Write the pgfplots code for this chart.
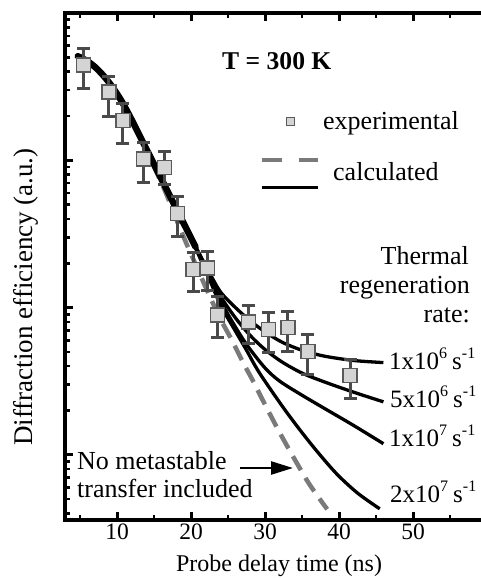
\documentclass[border=0pt]{standalone}
\usepackage{fontspec}
\setmainfont{Liberation Serif}
\usepackage{pgfplots}
\pgfplotsset{compat=1.18}
\usepackage{pgfplotstable}
\usetikzlibrary{arrows.meta}
\definecolor{sqfill}{HTML}{D4D4D4}
\definecolor{sqedge}{HTML}{5A5A5A}
\definecolor{errc}{HTML}{4A4A4A}
\definecolor{dashc}{HTML}{7A7A7A}
\newcommand\sups[1]{\raisebox{0.45em}{\fontsize{16}{16}\selectfont #1}}

\pgfplotstableread{
x y ep em
5.5 4.43 1.35 1.34
8.9 2.90 0.83 0.91
10.8 1.87 0.57 0.56
13.6 1.02 0.31 0.31
16.4 0.896 0.26 0.21
18.2 0.436 0.133 0.132
20.3 0.181 0.056 0.053
22.2 0.185 0.055 0.055
23.6 0.089 0.029 0.026
27.8 0.080 0.023 0.023
30.5 0.0708 0.0217 0.0214
33.1 0.0731 0.021 0.0229
35.8 0.0502 0.0153 0.0152
41.5 0.0345 0.0098 0.0105
}\expdata

\pgfplotstableread{
x y
4.7 5.09
6.0 4.71
7.2 4.22
8.4 3.64
9.5 3.08
10.7 2.48
12.0 1.875
13.4 1.358
15.0 0.940
16.5 0.665
18.0 0.471
19.5 0.333
20.6 0.259
}\common

\pgfplotstableread{
x y
19.5 0.333
21 0.2388
22.5 0.1718
24 0.1274
26 0.100
28 0.0813
30 0.0684
32.3 0.0582
35 0.0513
38 0.0468
42 0.0437
46 0.0423
}\rA

\pgfplotstableread{
x y
19.5 0.333
21 0.2355
22.5 0.166
24 0.1189
26 0.0851
28 0.0646
30 0.0519
32.3 0.0427
35 0.0359
38 0.0313
42 0.0266
46 0.0229
}\rB

\pgfplotstableread{
x y
19.5 0.333
21 0.2323
22.5 0.1603
24 0.1109
25.5 0.0813
27.5 0.0562
30 0.0389
32 0.0316
35 0.0254
38 0.0207
42 0.0158
46 0.0119
}\rC

\pgfplotstableread{
x y
19.5 0.333
21 0.2291
22.5 0.1549
24 0.1035
26 0.0692
27.5 0.0513
29.2 0.0363
32.3 0.0215
34.7 0.0148
37 0.0106
39.7 0.00741
42.5 0.00550
45.5 0.00430
}\rD

\pgfplotstableread{
x y
13.4 1.358
15 0.902
16.5 0.617
18 0.398
19.5 0.263
21 0.178
22.5 0.120
24 0.0832
25.5 0.0603
27 0.0427
28.5 0.0309
30 0.0219
32 0.0141
34 0.00933
36 0.00631
38.4 0.00427
}\nometa

\begin{document}
\begin{tikzpicture}
\useasboundingbox (-65pt,-58pt) rectangle (415pt,520pt);
\begin{axis}[
  at={(0pt,0pt)}, anchor=south west,
  scale only axis, width=415pt, height=507pt,
  ymode=log,
  xmin=2.97, xmax=59.05, ymin=0.00361, ymax=10,
  axis y line*=left, axis x line*=box,
  axis line style={line width=4pt, line cap=rect},
  tick align=inside,
  xtick={10,20,30,40,50},
  minor xtick={5,15,25,35,45,55},
  ytick={0.01,0.1,1,10}, yticklabels={},
  minor ytick={0.004,0.005,0.006,0.007,0.008,0.009,0.02,0.03,0.04,0.05,0.06,0.07,0.08,0.09,0.2,0.3,0.4,0.5,0.6,0.7,0.8,0.9,2,3,4,5,6,7,8,9},
  major tick length=8pt, minor tick length=5pt,
  major tick style={line width=3pt, black},
  minor tick style={line width=2.6pt, black},
  xticklabel style={font=\fontsize{23.5}{26}\selectfont},
  /pgf/number format/assume math mode=true,
]
\addplot[dashc, line width=4.5pt, dash pattern=on 16pt off 9pt, smooth] table[x=x,y=y]{\nometa};
\addplot[black, line width=3.3pt, smooth] table[x=x,y=y]{\rA};
\addplot[black, line width=3.3pt, smooth] table[x=x,y=y]{\rB};
\addplot[black, line width=3.3pt, smooth] table[x=x,y=y]{\rC};
\addplot[black, line width=3.3pt, smooth] table[x=x,y=y]{\rD};
\addplot[black, line width=6.5pt, line cap=round, smooth] table[x=x,y=y]{\common};
\addplot[only marks, mark=square*, mark size=7pt,
  mark options={fill=sqfill, draw=sqedge, line width=1.5pt},
  error bars/.cd, y dir=both, y explicit,
  error bar style={line width=3pt, color=errc, solid},
  error mark options={rotate=90, line width=3pt, color=errc, mark size=6.5pt}]
  table[x=x, y=y, y error plus=ep, y error minus=em]{\expdata};
\end{axis}
% texts (absolute positions, axis SW corner at origin)
\node[anchor=base west, inner sep=0, font=\fontsize{25.6}{28}\selectfont\bfseries] at (157pt,450pt) {T = 300 K};
\draw[sqedge, fill=sqfill, line width=1pt] (221pt,394pt) rectangle (229pt,402pt);
\node[anchor=base west, inner sep=0, font=\fontsize{26}{28}\selectfont] at (258pt,390pt) {experimental};
\draw[dashc, line width=3.5pt, dash pattern=on 20pt off 17pt] (197pt,360pt) -- (253pt,360pt);
\draw[black, line width=3pt] (197pt,332pt) -- (253pt,332pt);
\node[anchor=base west, inner sep=0, font=\fontsize{26}{28}\selectfont] at (268pt,339pt) {calculated};
\node[anchor=base east, inner sep=0, font=\fontsize{26}{28}\selectfont] at (404pt,255pt) {Thermal};
\node[anchor=base east, inner sep=0, font=\fontsize{26}{28}\selectfont] at (405pt,226pt) {regeneration};
\node[anchor=base east, inner sep=0, font=\fontsize{26}{28}\selectfont] at (405pt,197pt) {rate:};
\node[anchor=base west, inner sep=0, font=\fontsize{25}{28}\selectfont] at (324pt,150pt) {1x10\sups{6}\hspace{0.2em}s\sups{-1}};
\node[anchor=base west, inner sep=0, font=\fontsize{25}{28}\selectfont] at (325pt,112pt) {5x10\sups{6}\hspace{0.2em}s\sups{-1}};
\node[anchor=base west, inner sep=0, font=\fontsize{25}{28}\selectfont] at (324pt,73pt) {1x10\sups{7}\hspace{0.2em}s\sups{-1}};
\node[anchor=base west, inner sep=0, font=\fontsize{25}{28}\selectfont] at (325pt,17pt) {2x10\sups{7}\hspace{0.2em}s\sups{-1}};
\node[anchor=base west, inner sep=0, font=\fontsize{26}{28}\selectfont] at (12pt,50pt) {No metastable};
\node[anchor=base west, inner sep=0, font=\fontsize{26}{28}\selectfont] at (12pt,22pt) {transfer included};
\draw[black, line width=2.5pt, -{Triangle[length=22pt,width=13pt]}] (175pt,52pt) -- (228pt,52pt);
\node[anchor=base, inner sep=0, font=\fontsize{24}{26}\selectfont] at (214pt,-52pt) {Probe delay time (ns)};
\node[anchor=base, rotate=90, inner sep=0, font=\fontsize{27}{29}\selectfont] at (-32pt,223pt) {Diffraction efficiency (a.u.)};
\end{tikzpicture}
\end{document}
